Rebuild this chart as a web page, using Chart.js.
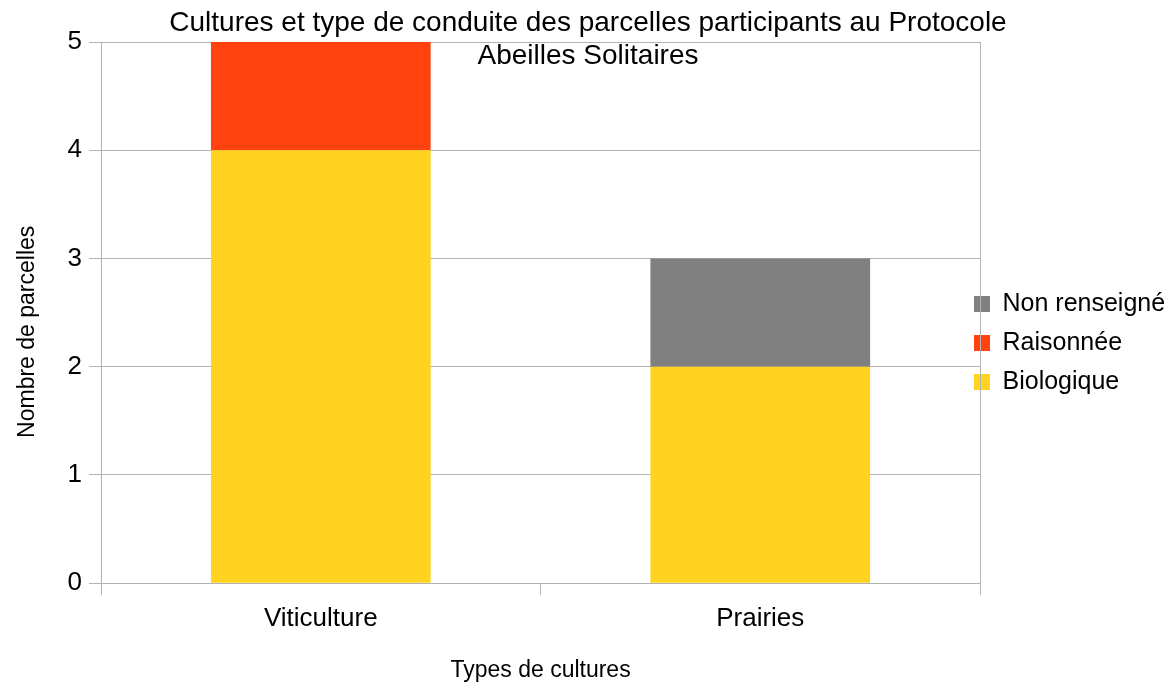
<!DOCTYPE html>
<html>
<head>
<meta charset="utf-8">
<script src="https://cdn.jsdelivr.net/npm/chart.js@4/dist/chart.umd.min.js"></script>
<style>
  html, body { margin: 0; padding: 0; background: #fff; overflow: hidden; }
  #wrap { width: 1176px; height: 686px; }
  canvas { display: block; }
</style>
</head>
<body>
<div id="wrap"><canvas id="cultureChart" width="1176" height="686"></canvas></div>
<script>
const categories = ['Viticulture', 'Prairies'];
const biologique = [4, 2];
const raisonnee = [1, 0];
const nonRenseigne = [0, 1];
const yTicks = [0, 1, 2, 3, 4, 5];

const gridColor = '#b3b3b3';
const fontFamily = '"Liberation Sans", Arial, sans-serif';

// legend boxes start just left of the plot's right edge, like the original
const legendShift = {
    id: 'legendShift',
    afterLayout(chart) {
        const lg = chart.legend;
        if (!lg) return;
        lg.left = chart.chartArea.right - 20;
    }
};

const ctx = document.getElementById('cultureChart').getContext('2d');
new Chart(ctx, {
    type: 'bar',
    data: {
        labels: categories,
        datasets: [
            { label: 'Biologique', data: biologique, backgroundColor: '#ffd320' },
            { label: 'Raisonnée', data: raisonnee, backgroundColor: '#ff420e' },
            { label: 'Non renseigné', data: nonRenseigne, backgroundColor: '#808080' }
        ]
    },
    options: {
        responsive: false,
        animation: false,
        layout: { padding: 0 },
        datasets: {
            bar: { categoryPercentage: 1, barPercentage: 0.5 }
        },
        plugins: {
            title: {
                display: true,
                text: ['Cultures et type de conduite des parcelles participants au Protocole', 'Abeilles Solitaires'],
                color: '#000',
                font: { family: fontFamily, size: 28, weight: 'normal', lineHeight: 1.18 },
                padding: { top: 7, bottom: -31 }
            },
            legend: {
                position: 'right',
                reverse: true,
                maxWidth: 188,
                labels: {
                    color: '#000',
                    boxWidth: 16,
                    boxHeight: 16,
                    padding: 14,
                    font: { family: fontFamily, size: 25 }
                }
            },
            tooltip: { enabled: false }
        },
        scales: {
            x: {
                stacked: true,
                offset: true,
                grid: {
                    offset: true,
                    drawOnChartArea: false,
                    color: gridColor,
                    tickLength: 12
                },
                border: { display: true, color: gridColor },
                ticks: {
                    color: '#000',
                    padding: 8,
                    font: { family: fontFamily, size: 26 }
                },
                title: {
                    display: true,
                    text: 'Types de cultures',
                    color: '#000',
                    font: { family: fontFamily, size: 23 },
                    padding: { top: 14, bottom: 2 }
                }
            },
            y: {
                stacked: true,
                min: 0,
                max: 5,
                afterBuildTicks(axis) {
                    axis.ticks = yTicks.map(v => ({ value: v }));
                },
                grid: { color: gridColor, tickLength: 12 },
                border: { display: true, color: gridColor },
                ticks: {
                    color: '#000',
                    padding: 7,
                    font: { family: fontFamily, size: 26 }
                },
                title: {
                    display: true,
                    text: 'Nombre de parcelles      ',
                    color: '#000',
                    font: { family: fontFamily, size: 23 },
                    padding: { top: 14, bottom: 19 }
                }
            },
            yRight: {
                position: 'right',
                display: true,
                grid: { display: false },
                ticks: { display: false },
                border: { display: true, color: gridColor }
            }
        }
    },
    plugins: [legendShift]
});
</script>
</body>
</html>
